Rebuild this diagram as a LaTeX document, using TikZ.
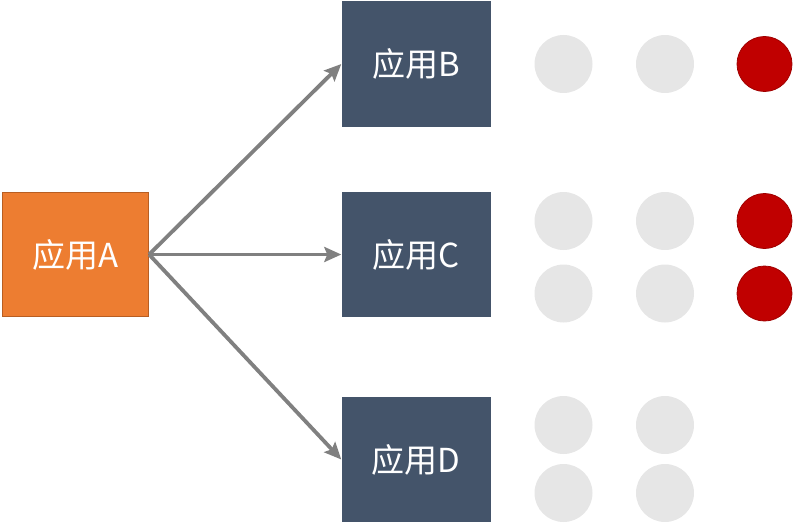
\documentclass[tikz,border=0pt]{standalone}
\usepackage{fontspec}
\setmainfont{Noto Sans CJK SC}
\usetikzlibrary{arrows.meta}
\definecolor{aorange}{HTML}{ED7D31}
\definecolor{aorangeb}{HTML}{B85E22}
\definecolor{appblue}{HTML}{44546A}
\definecolor{dotgray}{HTML}{E6E6E6}
\definecolor{dotred}{HTML}{C00000}
\definecolor{dotredb}{HTML}{A00000}
\definecolor{arrowgray}{HTML}{808080}
\begin{document}
\begin{tikzpicture}[x=1pt,y=-1pt,
  appbox/.style={rectangle, minimum width=149pt, minimum height=125pt, inner sep=0pt,
    text=white, font=\fontsize{33}{40}\selectfont},
  srcbox/.style={appbox, fill=aorange, draw=aorangeb, line width=1.2pt, minimum width=146pt, minimum height=124pt},
  dstbox/.style={appbox, fill=appblue},
  graydot/.style={circle, fill=dotgray, minimum size=58pt, inner sep=0pt},
  reddot/.style={circle, fill=dotred, draw=dotredb, line width=0.8pt, minimum size=55pt, inner sep=0pt},
  conn/.style={draw=arrowgray, line width=3.8pt, -{Stealth[length=17pt,width=15pt,inset=3pt]}}]
\useasboundingbox (0,0) rectangle (794,524);
\node[srcbox] (A) at (75.5,254.5) {应用A};
\node[dstbox] (B) at (416,64) {应用B};
\node[dstbox] (C) at (416,254.5) {应用C};
\node[dstbox] (D) at (416,459.5) {应用D};
\node[graydot] (b1) at (563.5,64) {};
\node[graydot] (b2) at (665,64) {};
\node[reddot] (b3) at (764.5,64) {};
\node[graydot] (c1) at (563.5,221) {};
\node[graydot] (c2) at (665,221) {};
\node[reddot] (c3) at (764.5,221) {};
\node[graydot] (c4) at (563.5,293.5) {};
\node[graydot] (c5) at (665,293.5) {};
\node[reddot] (c6) at (764.5,293.5) {};
\node[graydot] (d1) at (563.5,425) {};
\node[graydot] (d2) at (665,425) {};
\node[graydot] (d3) at (563.5,493) {};
\node[graydot] (d4) at (665,493) {};
\draw[conn] (A.east) -- (B.west);
\draw[conn] (A.east) -- (C.west);
\draw[conn] (A.east) -- (D.west);
\end{tikzpicture}
\end{document}
